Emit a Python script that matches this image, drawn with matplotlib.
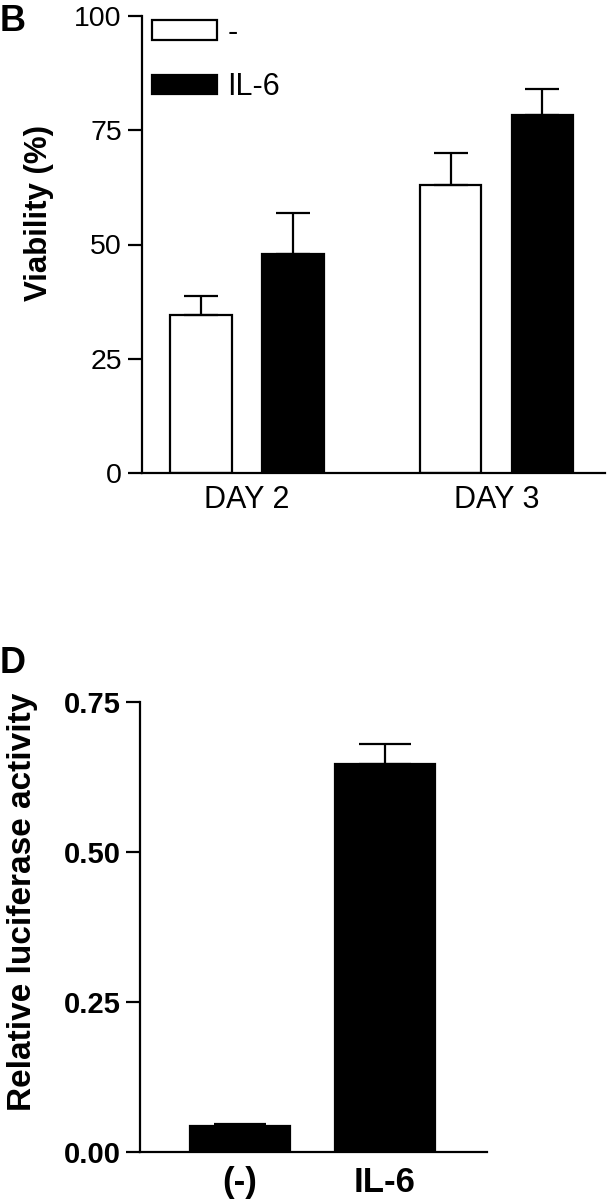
import matplotlib
matplotlib.use("Agg")
import matplotlib.pyplot as plt
from matplotlib.patches import Patch
import numpy as np

plt.rcParams['font.family'] = ['Liberation Sans', 'DejaVu Sans']

# Panel B data
days = ["DAY 2", "DAY 3"]
ctrl_mean = [34.6, 63.0]
ctrl_err = [4.2, 7.0]
il6_mean = [48.0, 78.4]
il6_err = [9.0, 5.7]
b_ticks = [0, 25, 50, 75, 100]
legend_labels = ["-", "IL-6"]

# Panel D data
d_cats = ["(-)", "IL-6"]
d_mean = [0.043, 0.647]
d_err = [0.003, 0.033]
d_ticks = [0.00, 0.25, 0.50, 0.75]

W, H = 608, 1200
fig = plt.figure(figsize=(W / 100, H / 100), dpi=100)

def fr(x0, y_top, x1, y_bot):
    return [x0 / W, 1 - y_bot / H, (x1 - x0) / W, (y_bot - y_top) / H]

lw = 1.6

# ---------- Panel B ----------
axB = fig.add_axes(fr(142, 16, 605, 473))
x = np.arange(len(days))
bw, off = 0.246, 0.184
axB.bar(x - off, ctrl_mean, bw, color="white", edgecolor="black", linewidth=lw,
        yerr=[np.zeros(len(ctrl_err)), ctrl_err], capsize=12,
        error_kw=dict(elinewidth=lw, capthick=lw, ecolor="black"), zorder=2)
axB.bar(x + off, il6_mean, bw, color="black", edgecolor="black", linewidth=lw,
        yerr=[np.zeros(len(il6_err)), il6_err], capsize=12,
        error_kw=dict(elinewidth=lw, capthick=lw, ecolor="black"), zorder=2)
axB.set_xlim(-0.421, 1.435)
axB.set_ylim(0, 100)
axB.set_yticks(b_ticks)
axB.set_yticklabels([str(t) for t in b_ticks], fontsize=20.5)
axB.set_xticks(x)
axB.set_xticklabels(days, fontsize=22)
axB.tick_params(axis="x", length=0, pad=9)
axB.tick_params(axis="y", length=10, width=lw, direction="out", pad=4.5)
for s in ["top", "right"]:
    axB.spines[s].set_visible(False)
for s in ["left", "bottom"]:
    axB.spines[s].set_linewidth(lw)
axB.set_ylabel("Viability (%)", fontsize=22.5, fontweight="bold")
axB.yaxis.set_label_coords(-0.19, 0.57)
handles = [Patch(facecolor="white", edgecolor="black", linewidth=lw),
           Patch(facecolor="black", edgecolor="black", linewidth=lw)]
axB.legend(handles, legend_labels, loc="upper left", bbox_to_anchor=(0.0216, 0.996),
           frameon=False, fontsize=22, handlelength=2.12, handleheight=0.6,
           labelspacing=0.8, handletextpad=0.35, borderaxespad=0, borderpad=0)
fig.text(0 / W, 1 - 31 / H, "B", fontsize=26, fontweight="bold", ha="left", va="baseline")

# ---------- Panel D ----------
axD = fig.add_axes(fr(140, 702, 487, 1152))
xd = np.arange(len(d_cats))
axD.bar(xd, d_mean, 0.692, color="black", edgecolor="black", linewidth=lw,
        yerr=[np.zeros(len(d_err)), d_err], capsize=18.5,
        error_kw=dict(elinewidth=lw, capthick=lw, ecolor="black"), zorder=2)
axD.set_xlim(-0.692, 1.709)
axD.set_ylim(0, 0.75)
axD.set_yticks(d_ticks)
axD.set_yticklabels([f"{t:.2f}" for t in d_ticks], fontsize=21, fontweight="bold")
axD.set_xticks(xd)
axD.set_xticklabels(d_cats, fontsize=25, fontweight="bold")
axD.tick_params(axis="x", length=0, pad=10)
axD.tick_params(axis="y", length=10, width=lw, direction="out", pad=4)
for s in ["top", "right"]:
    axD.spines[s].set_visible(False)
for s in ["left", "bottom"]:
    axD.spines[s].set_linewidth(lw)
axD.set_ylabel("Relative luciferase activity", fontsize=24, fontweight="bold")
axD.yaxis.set_label_coords(-0.294, 0.556)
fig.text(0 / W, 1 - 673 / H, "D", fontsize=26, fontweight="bold", ha="left", va="baseline")

fig.savefig("out.png", dpi=100)
